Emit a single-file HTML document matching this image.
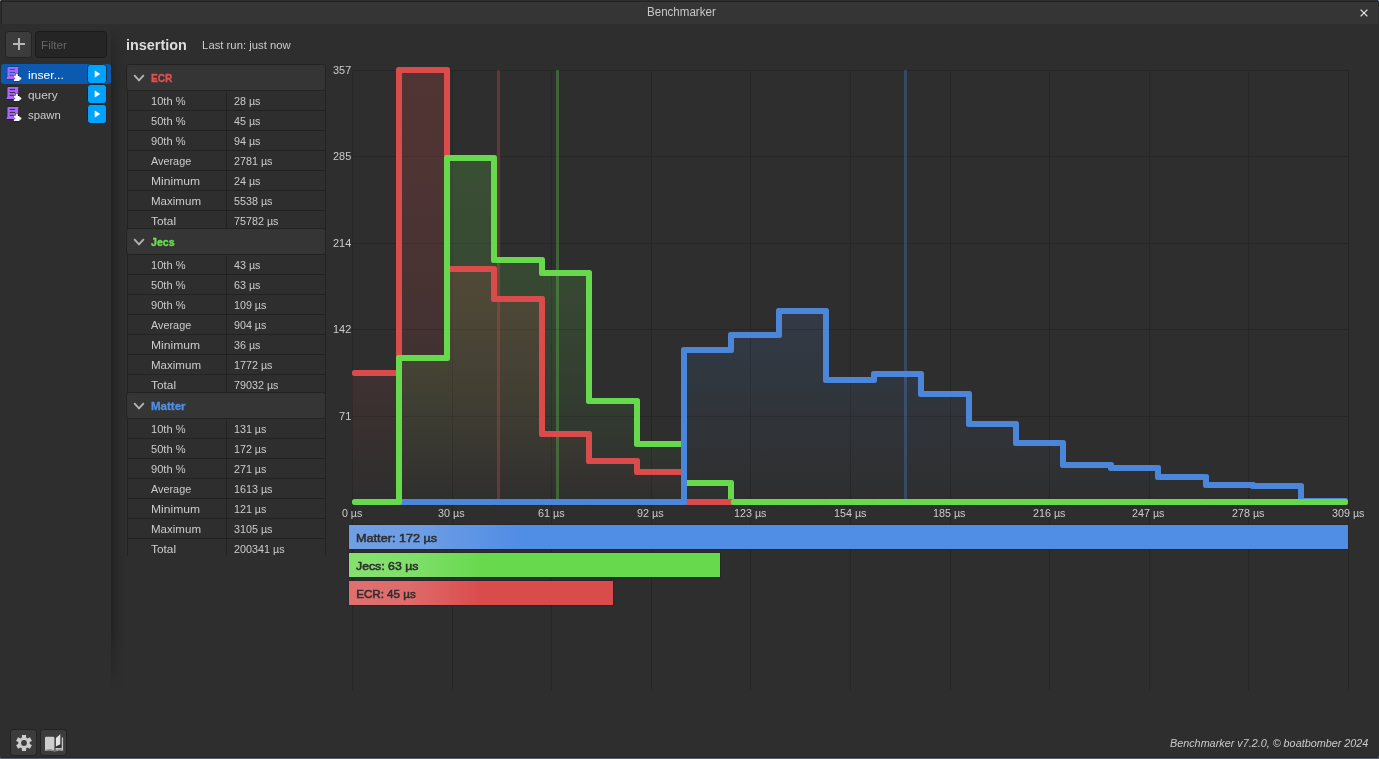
<!DOCTYPE html>
<html><head><meta charset="utf-8"><title>Benchmarker</title>
<style>
html,body{margin:0;padding:0}
body{width:1379px;height:759px;background:#2e2e2e;position:relative;overflow:hidden;font-family:"Liberation Sans",sans-serif}
.t{position:absolute;white-space:nowrap;line-height:1;transform-origin:0 50%}
</style></head><body>
<div style="position:absolute;left:0;top:0;width:1379px;height:24px;background:#2e2e2e"></div>
<div style="position:absolute;left:1px;top:1px;width:1377px;height:23px;background:#222222"></div>
<div style="position:absolute;left:2px;top:2px;width:1376px;height:22px;background:#353535"></div>
<svg style="position:absolute;left:1358px;top:7px" width="12" height="12" viewBox="0 0 12 12"><path d="M2.6 2.6 L9.4 9.4 M9.4 2.6 L2.6 9.4" stroke="#e4e4e4" stroke-width="1.3" fill="none"/></svg>
<div style="position:absolute;left:111px;top:24px;width:14px;height:665px;background:linear-gradient(90deg,rgba(0,0,0,0.24),rgba(0,0,0,0.12) 35%,rgba(0,0,0,0.04) 70%,rgba(0,0,0,0));-webkit-mask-image:linear-gradient(180deg,rgba(0,0,0,0) 2px,rgba(0,0,0,0.55) 26px,#000 60px,#000 608px,rgba(0,0,0,0) 665px);mask-image:linear-gradient(180deg,rgba(0,0,0,0) 2px,rgba(0,0,0,0.55) 26px,#000 60px,#000 608px,rgba(0,0,0,0) 665px)"></div>
<div style="position:absolute;left:5px;top:31px;width:25px;height:25px;border:1px solid #222222;border-radius:3.5px;background:#3c3c3c"></div>
<svg style="position:absolute;left:12px;top:37px" width="14" height="14" viewBox="0 0 14 14"><path d="M7 1 V13 M1 7 H13" stroke="#b6b6b6" stroke-width="2" fill="none"/></svg>
<div style="position:absolute;left:35px;top:31px;width:70px;height:25px;border:1px solid #1a1a1a;border-radius:3.5px;background:#252525"></div>
<div style="position:absolute;left:1px;top:64px;width:110px;height:20px;border-radius:3px;background:#0b5aaf"></div>
<svg style="position:absolute;left:6px;top:66px" width="16" height="16" viewBox="0 0 16 16">
<g stroke="rgba(0,0,0,0.35)" stroke-width="1" paint-order="stroke" stroke-linejoin="round">
<path d="M1.9 1 H13 L12.2 1.9 V7.4 H9 V13 H0.3 L1.4 10.6 V2 Z" fill="#ab66ff"/>
<path d="M7.8 10 H9.4 C9.5 9 9.7 7.6 10.7 7.6 C11.7 7.6 11.9 9 12 10 H13.5 V11 C14.3 11.1 15.5 11.5 15.5 12.4 C15.5 13.3 14.3 13.7 13.5 13.8 V15.1 H7.8 V13.3 C8.5 13.3 9.2 13 9.2 12.4 C9.2 11.8 8.5 11.5 7.8 11.5 Z" fill="#ffffff"/>
</g>
<path d="M3.6 3.45 H9 M3.6 6.4 H9 M3.6 9.3 H7.6" stroke="#0b5aaf" stroke-width="1" fill="none"/>
</svg>
<div style="position:absolute;left:87px;top:64px;width:18px;height:18px;border:1px solid #1c2f47;border-radius:3.5px;background:#00a2ff"></div>
<svg style="position:absolute;left:93px;top:69px" width="10" height="10" viewBox="0 0 10 10"><path d="M1.7 1.4 L7.3 5 L1.7 8.6 Z" fill="#ffffff"/></svg>
<svg style="position:absolute;left:6px;top:86px" width="16" height="16" viewBox="0 0 16 16">
<g stroke="rgba(0,0,0,0.35)" stroke-width="1" paint-order="stroke" stroke-linejoin="round">
<path d="M1.9 1 H13 L12.2 1.9 V7.4 H9 V13 H0.3 L1.4 10.6 V2 Z" fill="#ab66ff"/>
<path d="M7.8 10 H9.4 C9.5 9 9.7 7.6 10.7 7.6 C11.7 7.6 11.9 9 12 10 H13.5 V11 C14.3 11.1 15.5 11.5 15.5 12.4 C15.5 13.3 14.3 13.7 13.5 13.8 V15.1 H7.8 V13.3 C8.5 13.3 9.2 13 9.2 12.4 C9.2 11.8 8.5 11.5 7.8 11.5 Z" fill="#ffffff"/>
</g>
<path d="M3.6 3.45 H9 M3.6 6.4 H9 M3.6 9.3 H7.6" stroke="#2e2e2e" stroke-width="1" fill="none"/>
</svg>
<div style="position:absolute;left:87px;top:84px;width:18px;height:18px;border:1px solid #222222;border-radius:3.5px;background:#00a2ff"></div>
<svg style="position:absolute;left:93px;top:89px" width="10" height="10" viewBox="0 0 10 10"><path d="M1.7 1.4 L7.3 5 L1.7 8.6 Z" fill="#ffffff"/></svg>
<svg style="position:absolute;left:6px;top:106px" width="16" height="16" viewBox="0 0 16 16">
<g stroke="rgba(0,0,0,0.35)" stroke-width="1" paint-order="stroke" stroke-linejoin="round">
<path d="M1.9 1 H13 L12.2 1.9 V7.4 H9 V13 H0.3 L1.4 10.6 V2 Z" fill="#ab66ff"/>
<path d="M7.8 10 H9.4 C9.5 9 9.7 7.6 10.7 7.6 C11.7 7.6 11.9 9 12 10 H13.5 V11 C14.3 11.1 15.5 11.5 15.5 12.4 C15.5 13.3 14.3 13.7 13.5 13.8 V15.1 H7.8 V13.3 C8.5 13.3 9.2 13 9.2 12.4 C9.2 11.8 8.5 11.5 7.8 11.5 Z" fill="#ffffff"/>
</g>
<path d="M3.6 3.45 H9 M3.6 6.4 H9 M3.6 9.3 H7.6" stroke="#2e2e2e" stroke-width="1" fill="none"/>
</svg>
<div style="position:absolute;left:87px;top:104px;width:18px;height:18px;border:1px solid #222222;border-radius:3.5px;background:#00a2ff"></div>
<svg style="position:absolute;left:93px;top:109px" width="10" height="10" viewBox="0 0 10 10"><path d="M1.7 1.4 L7.3 5 L1.7 8.6 Z" fill="#ffffff"/></svg>
<div style="position:absolute;left:120px;top:60px;width:215px;height:496px;overflow:hidden">
<div style="position:absolute;left:7px;top:30px;width:197px;height:141px;border:1px solid #222222;border-top:none;box-sizing:content-box;background:#2e2e2e"></div>
<div style="position:absolute;left:106px;top:30px;width:1px;height:142px;background:#222222"></div>
<div style="position:absolute;left:7px;top:50px;width:199px;height:1px;background:#222222"></div>
<div style="position:absolute;left:7px;top:70px;width:199px;height:1px;background:#222222"></div>
<div style="position:absolute;left:7px;top:90px;width:199px;height:1px;background:#222222"></div>
<div style="position:absolute;left:7px;top:110px;width:199px;height:1px;background:#222222"></div>
<div style="position:absolute;left:7px;top:130px;width:199px;height:1px;background:#222222"></div>
<div style="position:absolute;left:7px;top:150px;width:199px;height:1px;background:#222222"></div>
<div style="position:absolute;left:7px;top:170px;width:199px;height:1px;background:#222222"></div>
<div style="position:absolute;left:7px;top:194px;width:197px;height:141px;border:1px solid #222222;border-top:none;box-sizing:content-box;background:#2e2e2e"></div>
<div style="position:absolute;left:106px;top:194px;width:1px;height:142px;background:#222222"></div>
<div style="position:absolute;left:7px;top:214px;width:199px;height:1px;background:#222222"></div>
<div style="position:absolute;left:7px;top:234px;width:199px;height:1px;background:#222222"></div>
<div style="position:absolute;left:7px;top:254px;width:199px;height:1px;background:#222222"></div>
<div style="position:absolute;left:7px;top:274px;width:199px;height:1px;background:#222222"></div>
<div style="position:absolute;left:7px;top:294px;width:199px;height:1px;background:#222222"></div>
<div style="position:absolute;left:7px;top:314px;width:199px;height:1px;background:#222222"></div>
<div style="position:absolute;left:7px;top:334px;width:199px;height:1px;background:#222222"></div>
<div style="position:absolute;left:7px;top:358px;width:197px;height:141px;border:1px solid #222222;border-top:none;box-sizing:content-box;background:#2e2e2e"></div>
<div style="position:absolute;left:106px;top:358px;width:1px;height:142px;background:#222222"></div>
<div style="position:absolute;left:7px;top:378px;width:199px;height:1px;background:#222222"></div>
<div style="position:absolute;left:7px;top:398px;width:199px;height:1px;background:#222222"></div>
<div style="position:absolute;left:7px;top:418px;width:199px;height:1px;background:#222222"></div>
<div style="position:absolute;left:7px;top:438px;width:199px;height:1px;background:#222222"></div>
<div style="position:absolute;left:7px;top:458px;width:199px;height:1px;background:#222222"></div>
<div style="position:absolute;left:7px;top:478px;width:199px;height:1px;background:#222222"></div>
<div style="position:absolute;left:7px;top:498px;width:199px;height:1px;background:#222222"></div>
<div style="position:absolute;left:6px;top:4px;width:198px;height:25px;border:1px solid #222222;border-radius:3.5px;background:#353535"></div>
<svg style="position:absolute;left:12px;top:12px" width="14" height="12" viewBox="0 0 14 12"><path d="M2.2 3.2 L7 8.4 L11.8 3.2" stroke="#b2b2b2" stroke-width="1.9" fill="none"/></svg>
<div style="position:absolute;left:6px;top:168px;width:198px;height:25px;border:1px solid #222222;border-radius:3.5px;background:#353535"></div>
<svg style="position:absolute;left:12px;top:176px" width="14" height="12" viewBox="0 0 14 12"><path d="M2.2 3.2 L7 8.4 L11.8 3.2" stroke="#b2b2b2" stroke-width="1.9" fill="none"/></svg>
<div style="position:absolute;left:6px;top:332px;width:198px;height:25px;border:1px solid #222222;border-radius:3.5px;background:#353535"></div>
<svg style="position:absolute;left:12px;top:340px" width="14" height="12" viewBox="0 0 14 12"><path d="M2.2 3.2 L7 8.4 L11.8 3.2" stroke="#b2b2b2" stroke-width="1.9" fill="none"/></svg>
</div>
<svg style="position:absolute;left:0;top:0" width="1379" height="759" viewBox="0 0 1379 759">
<defs><linearGradient id="fr" gradientUnits="userSpaceOnUse" x1="0" y1="70" x2="0" y2="502"><stop offset="0.0" stop-color="#da4c4c" stop-opacity="0.2000"/><stop offset="0.1" stop-color="#da4c4c" stop-opacity="0.1980"/><stop offset="0.2" stop-color="#da4c4c" stop-opacity="0.1920"/><stop offset="0.3" stop-color="#da4c4c" stop-opacity="0.1820"/><stop offset="0.4" stop-color="#da4c4c" stop-opacity="0.1680"/><stop offset="0.5" stop-color="#da4c4c" stop-opacity="0.1500"/><stop offset="0.6" stop-color="#da4c4c" stop-opacity="0.1280"/><stop offset="0.7" stop-color="#da4c4c" stop-opacity="0.1020"/><stop offset="0.8" stop-color="#da4c4c" stop-opacity="0.0720"/><stop offset="0.9" stop-color="#da4c4c" stop-opacity="0.0380"/><stop offset="1.0" stop-color="#da4c4c" stop-opacity="0.0000"/></linearGradient><linearGradient id="fg" gradientUnits="userSpaceOnUse" x1="0" y1="70" x2="0" y2="502"><stop offset="0.0" stop-color="#67d94c" stop-opacity="0.2000"/><stop offset="0.1" stop-color="#67d94c" stop-opacity="0.1980"/><stop offset="0.2" stop-color="#67d94c" stop-opacity="0.1920"/><stop offset="0.3" stop-color="#67d94c" stop-opacity="0.1820"/><stop offset="0.4" stop-color="#67d94c" stop-opacity="0.1680"/><stop offset="0.5" stop-color="#67d94c" stop-opacity="0.1500"/><stop offset="0.6" stop-color="#67d94c" stop-opacity="0.1280"/><stop offset="0.7" stop-color="#67d94c" stop-opacity="0.1020"/><stop offset="0.8" stop-color="#67d94c" stop-opacity="0.0720"/><stop offset="0.9" stop-color="#67d94c" stop-opacity="0.0380"/><stop offset="1.0" stop-color="#67d94c" stop-opacity="0.0000"/></linearGradient><linearGradient id="fb" gradientUnits="userSpaceOnUse" x1="0" y1="70" x2="0" y2="502"><stop offset="0.0" stop-color="#4c86d8" stop-opacity="0.2000"/><stop offset="0.1" stop-color="#4c86d8" stop-opacity="0.1980"/><stop offset="0.2" stop-color="#4c86d8" stop-opacity="0.1920"/><stop offset="0.3" stop-color="#4c86d8" stop-opacity="0.1820"/><stop offset="0.4" stop-color="#4c86d8" stop-opacity="0.1680"/><stop offset="0.5" stop-color="#4c86d8" stop-opacity="0.1500"/><stop offset="0.6" stop-color="#4c86d8" stop-opacity="0.1280"/><stop offset="0.7" stop-color="#4c86d8" stop-opacity="0.1020"/><stop offset="0.8" stop-color="#4c86d8" stop-opacity="0.0720"/><stop offset="0.9" stop-color="#4c86d8" stop-opacity="0.0380"/><stop offset="1.0" stop-color="#4c86d8" stop-opacity="0.0000"/></linearGradient></defs>
<rect x="352" y="70" width="1" height="620" fill="#262626"/>
<rect x="452" y="70" width="1" height="620" fill="#262626"/>
<rect x="551" y="70" width="1" height="620" fill="#262626"/>
<rect x="651" y="70" width="1" height="620" fill="#262626"/>
<rect x="750" y="70" width="1" height="620" fill="#262626"/>
<rect x="850" y="70" width="1" height="620" fill="#262626"/>
<rect x="950" y="70" width="1" height="620" fill="#262626"/>
<rect x="1049" y="70" width="1" height="620" fill="#262626"/>
<rect x="1149" y="70" width="1" height="620" fill="#262626"/>
<rect x="1248" y="70" width="1" height="620" fill="#262626"/>
<rect x="1348" y="70" width="1" height="620" fill="#262626"/>
<rect x="352" y="70" width="997" height="1" fill="#262626"/>
<rect x="352" y="156" width="997" height="1" fill="#262626"/>
<rect x="352" y="243" width="997" height="1" fill="#262626"/>
<rect x="352" y="329" width="997" height="1" fill="#262626"/>
<rect x="352" y="416" width="997" height="1" fill="#262626"/>
<rect x="352" y="502" width="997" height="1" fill="#262626"/>
<rect x="352.00" y="373" width="47.00" height="129" fill="url(#fr)"/>
<rect x="399.00" y="70" width="48.00" height="432" fill="url(#fr)"/>
<rect x="447.00" y="158" width="47.00" height="344" fill="url(#fg)"/>
<rect x="494.00" y="260" width="48.00" height="242" fill="url(#fg)"/>
<rect x="542.00" y="273" width="47.00" height="229" fill="url(#fg)"/>
<rect x="589.00" y="401" width="48.00" height="101" fill="url(#fg)"/>
<rect x="637.00" y="444" width="47.00" height="58" fill="url(#fg)"/>
<rect x="684.00" y="350" width="47.00" height="152" fill="url(#fb)"/>
<rect x="731.00" y="335" width="48.00" height="167" fill="url(#fb)"/>
<rect x="779.00" y="311" width="47.00" height="191" fill="url(#fb)"/>
<rect x="826.00" y="380" width="48.00" height="122" fill="url(#fb)"/>
<rect x="874.00" y="374" width="47.00" height="128" fill="url(#fb)"/>
<rect x="921.00" y="394" width="48.00" height="108" fill="url(#fb)"/>
<rect x="969.00" y="424" width="47.00" height="78" fill="url(#fb)"/>
<rect x="1016.00" y="443" width="47.00" height="59" fill="url(#fb)"/>
<rect x="1063.00" y="465" width="48.00" height="37" fill="url(#fb)"/>
<rect x="1111.00" y="468" width="47.00" height="34" fill="url(#fb)"/>
<rect x="1158.00" y="477" width="48.00" height="25" fill="url(#fb)"/>
<rect x="1206.00" y="485" width="47.00" height="17" fill="url(#fb)"/>
<rect x="1253.00" y="486" width="48.00" height="16" fill="url(#fb)"/>
<rect x="1301.00" y="501" width="47.00" height="1" fill="url(#fb)"/>
<rect x="447.00" y="269" width="47.00" height="233" fill="url(#fr)"/>
<rect x="494.00" y="299" width="48.00" height="203" fill="url(#fr)"/>
<rect x="542.00" y="434" width="47.00" height="68" fill="url(#fr)"/>
<rect x="589.00" y="461" width="48.00" height="41" fill="url(#fr)"/>
<rect x="637.00" y="472" width="47.00" height="30" fill="url(#fr)"/>
<rect x="399.00" y="358" width="48.00" height="144" fill="url(#fg)"/>
<rect x="684.00" y="483" width="47.00" height="19" fill="url(#fg)"/>
<rect x="497" y="70" width="3" height="432" fill="#da4c4c" fill-opacity="0.31"/>
<rect x="556" y="70" width="3" height="432" fill="#67d94c" fill-opacity="0.31"/>
<rect x="904" y="70" width="3" height="432" fill="#4c86d8" fill-opacity="0.31"/>
<rect x="399" y="499" width="48" height="6" rx="2.5" fill="#4c86d8"/>
<rect x="444" y="499" width="6" height="6" rx="2.5" fill="#4c86d8"/>
<rect x="352" y="370" width="47" height="6" rx="2.5" fill="#da4c4c"/>
<rect x="396" y="67" width="6" height="309" rx="2.5" fill="#da4c4c"/>
<rect x="399" y="67" width="48" height="6" rx="2.5" fill="#da4c4c"/>
<rect x="444" y="67" width="6" height="205" rx="2.5" fill="#da4c4c"/>
<rect x="447" y="155" width="47" height="6" rx="2.5" fill="#67d94c"/>
<rect x="491" y="155" width="6" height="108" rx="2.5" fill="#67d94c"/>
<rect x="494" y="257" width="48" height="6" rx="2.5" fill="#67d94c"/>
<rect x="539" y="257" width="6" height="19" rx="2.5" fill="#67d94c"/>
<rect x="542" y="270" width="47" height="6" rx="2.5" fill="#67d94c"/>
<rect x="586" y="270" width="6" height="134" rx="2.5" fill="#67d94c"/>
<rect x="589" y="398" width="48" height="6" rx="2.5" fill="#67d94c"/>
<rect x="634" y="398" width="6" height="49" rx="2.5" fill="#67d94c"/>
<rect x="637" y="441" width="47" height="6" rx="2.5" fill="#67d94c"/>
<rect x="681" y="441" width="6" height="45" rx="2.5" fill="#67d94c"/>
<rect x="684" y="347" width="47" height="6" rx="2.5" fill="#4c86d8"/>
<rect x="728" y="332" width="6" height="21" rx="2.5" fill="#4c86d8"/>
<rect x="731" y="332" width="48" height="6" rx="2.5" fill="#4c86d8"/>
<rect x="776" y="308" width="6" height="30" rx="2.5" fill="#4c86d8"/>
<rect x="779" y="308" width="47" height="6" rx="2.5" fill="#4c86d8"/>
<rect x="823" y="308" width="6" height="75" rx="2.5" fill="#4c86d8"/>
<rect x="826" y="377" width="48" height="6" rx="2.5" fill="#4c86d8"/>
<rect x="871" y="371" width="6" height="12" rx="2.5" fill="#4c86d8"/>
<rect x="874" y="371" width="47" height="6" rx="2.5" fill="#4c86d8"/>
<rect x="918" y="371" width="6" height="26" rx="2.5" fill="#4c86d8"/>
<rect x="921" y="391" width="48" height="6" rx="2.5" fill="#4c86d8"/>
<rect x="966" y="391" width="6" height="36" rx="2.5" fill="#4c86d8"/>
<rect x="969" y="421" width="47" height="6" rx="2.5" fill="#4c86d8"/>
<rect x="1013" y="421" width="6" height="25" rx="2.5" fill="#4c86d8"/>
<rect x="1016" y="440" width="47" height="6" rx="2.5" fill="#4c86d8"/>
<rect x="1060" y="440" width="6" height="28" rx="2.5" fill="#4c86d8"/>
<rect x="1063" y="462" width="48" height="6" rx="2.5" fill="#4c86d8"/>
<rect x="1108" y="462" width="6" height="9" rx="2.5" fill="#4c86d8"/>
<rect x="1111" y="465" width="47" height="6" rx="2.5" fill="#4c86d8"/>
<rect x="1155" y="465" width="6" height="15" rx="2.5" fill="#4c86d8"/>
<rect x="1158" y="474" width="48" height="6" rx="2.5" fill="#4c86d8"/>
<rect x="1203" y="474" width="6" height="14" rx="2.5" fill="#4c86d8"/>
<rect x="1206" y="482" width="47" height="6" rx="2.5" fill="#4c86d8"/>
<rect x="1250" y="482" width="6" height="7" rx="2.5" fill="#4c86d8"/>
<rect x="1253" y="483" width="48" height="6" rx="2.5" fill="#4c86d8"/>
<rect x="1298" y="483" width="6" height="21" rx="2.5" fill="#4c86d8"/>
<rect x="1301" y="498" width="47" height="6" rx="2.5" fill="#4c86d8"/>
<rect x="447" y="266" width="47" height="6" rx="2.5" fill="#da4c4c"/>
<rect x="491" y="266" width="6" height="36" rx="2.5" fill="#da4c4c"/>
<rect x="494" y="296" width="48" height="6" rx="2.5" fill="#da4c4c"/>
<rect x="539" y="296" width="6" height="141" rx="2.5" fill="#da4c4c"/>
<rect x="542" y="431" width="47" height="6" rx="2.5" fill="#da4c4c"/>
<rect x="586" y="431" width="6" height="33" rx="2.5" fill="#da4c4c"/>
<rect x="589" y="458" width="48" height="6" rx="2.5" fill="#da4c4c"/>
<rect x="634" y="458" width="6" height="17" rx="2.5" fill="#da4c4c"/>
<rect x="637" y="469" width="47" height="6" rx="2.5" fill="#da4c4c"/>
<rect x="681" y="469" width="6" height="36" rx="2.5" fill="#da4c4c"/>
<rect x="731" y="499" width="48" height="6" rx="2.5" fill="#da4c4c"/>
<rect x="776" y="499" width="6" height="6" rx="2.5" fill="#da4c4c"/>
<rect x="779" y="499" width="47" height="6" rx="2.5" fill="#da4c4c"/>
<rect x="823" y="499" width="6" height="6" rx="2.5" fill="#da4c4c"/>
<rect x="826" y="499" width="48" height="6" rx="2.5" fill="#da4c4c"/>
<rect x="871" y="499" width="6" height="6" rx="2.5" fill="#da4c4c"/>
<rect x="874" y="499" width="47" height="6" rx="2.5" fill="#da4c4c"/>
<rect x="918" y="499" width="6" height="6" rx="2.5" fill="#da4c4c"/>
<rect x="921" y="499" width="48" height="6" rx="2.5" fill="#da4c4c"/>
<rect x="966" y="499" width="6" height="6" rx="2.5" fill="#da4c4c"/>
<rect x="969" y="499" width="47" height="6" rx="2.5" fill="#da4c4c"/>
<rect x="1013" y="499" width="6" height="6" rx="2.5" fill="#da4c4c"/>
<rect x="1016" y="499" width="47" height="6" rx="2.5" fill="#da4c4c"/>
<rect x="1060" y="499" width="6" height="6" rx="2.5" fill="#da4c4c"/>
<rect x="1063" y="499" width="48" height="6" rx="2.5" fill="#da4c4c"/>
<rect x="1108" y="499" width="6" height="6" rx="2.5" fill="#da4c4c"/>
<rect x="1111" y="499" width="47" height="6" rx="2.5" fill="#da4c4c"/>
<rect x="1155" y="499" width="6" height="6" rx="2.5" fill="#da4c4c"/>
<rect x="1158" y="499" width="48" height="6" rx="2.5" fill="#da4c4c"/>
<rect x="1203" y="499" width="6" height="6" rx="2.5" fill="#da4c4c"/>
<rect x="1206" y="499" width="47" height="6" rx="2.5" fill="#da4c4c"/>
<rect x="1250" y="499" width="6" height="6" rx="2.5" fill="#da4c4c"/>
<rect x="1253" y="499" width="48" height="6" rx="2.5" fill="#da4c4c"/>
<rect x="1298" y="499" width="6" height="6" rx="2.5" fill="#da4c4c"/>
<rect x="1301" y="499" width="47" height="6" rx="2.5" fill="#da4c4c"/>
<rect x="352" y="499" width="47" height="6" rx="2.5" fill="#67d94c"/>
<rect x="396" y="355" width="6" height="150" rx="2.5" fill="#67d94c"/>
<rect x="399" y="355" width="48" height="6" rx="2.5" fill="#67d94c"/>
<rect x="444" y="155" width="6" height="206" rx="2.5" fill="#67d94c"/>
<rect x="684" y="480" width="47" height="6" rx="2.5" fill="#67d94c"/>
<rect x="728" y="480" width="6" height="25" rx="2.5" fill="#67d94c"/>
<rect x="684" y="499" width="47" height="6" rx="2.5" fill="#da4c4c"/>
<rect x="728" y="499" width="6" height="6" rx="2.5" fill="#da4c4c"/>
<rect x="731" y="499" width="48" height="6" rx="2.5" fill="#67d94c"/>
<rect x="776" y="499" width="6" height="6" rx="2.5" fill="#67d94c"/>
<rect x="779" y="499" width="47" height="6" rx="2.5" fill="#67d94c"/>
<rect x="823" y="499" width="6" height="6" rx="2.5" fill="#67d94c"/>
<rect x="826" y="499" width="48" height="6" rx="2.5" fill="#67d94c"/>
<rect x="871" y="499" width="6" height="6" rx="2.5" fill="#67d94c"/>
<rect x="874" y="499" width="47" height="6" rx="2.5" fill="#67d94c"/>
<rect x="918" y="499" width="6" height="6" rx="2.5" fill="#67d94c"/>
<rect x="921" y="499" width="48" height="6" rx="2.5" fill="#67d94c"/>
<rect x="966" y="499" width="6" height="6" rx="2.5" fill="#67d94c"/>
<rect x="969" y="499" width="47" height="6" rx="2.5" fill="#67d94c"/>
<rect x="1013" y="499" width="6" height="6" rx="2.5" fill="#67d94c"/>
<rect x="1016" y="499" width="47" height="6" rx="2.5" fill="#67d94c"/>
<rect x="1060" y="499" width="6" height="6" rx="2.5" fill="#67d94c"/>
<rect x="1063" y="499" width="48" height="6" rx="2.5" fill="#67d94c"/>
<rect x="1108" y="499" width="6" height="6" rx="2.5" fill="#67d94c"/>
<rect x="1111" y="499" width="47" height="6" rx="2.5" fill="#67d94c"/>
<rect x="1155" y="499" width="6" height="6" rx="2.5" fill="#67d94c"/>
<rect x="1158" y="499" width="48" height="6" rx="2.5" fill="#67d94c"/>
<rect x="1203" y="499" width="6" height="6" rx="2.5" fill="#67d94c"/>
<rect x="1206" y="499" width="47" height="6" rx="2.5" fill="#67d94c"/>
<rect x="1250" y="499" width="6" height="6" rx="2.5" fill="#67d94c"/>
<rect x="1253" y="499" width="48" height="6" rx="2.5" fill="#67d94c"/>
<rect x="1298" y="499" width="6" height="6" rx="2.5" fill="#67d94c"/>
<rect x="1301" y="499" width="47" height="6" rx="2.5" fill="#67d94c"/>
<rect x="447" y="499" width="47" height="6" rx="2.5" fill="#4c86d8"/>
<rect x="491" y="499" width="6" height="6" rx="2.5" fill="#4c86d8"/>
<rect x="494" y="499" width="48" height="6" rx="2.5" fill="#4c86d8"/>
<rect x="539" y="499" width="6" height="6" rx="2.5" fill="#4c86d8"/>
<rect x="542" y="499" width="47" height="6" rx="2.5" fill="#4c86d8"/>
<rect x="586" y="499" width="6" height="6" rx="2.5" fill="#4c86d8"/>
<rect x="589" y="499" width="48" height="6" rx="2.5" fill="#4c86d8"/>
<rect x="634" y="499" width="6" height="6" rx="2.5" fill="#4c86d8"/>
<rect x="637" y="499" width="47" height="6" rx="2.5" fill="#4c86d8"/>
<rect x="681" y="347" width="6" height="158" rx="2.5" fill="#4c86d8"/>
</svg>
<div style="position:absolute;left:348px;top:524px;width:1001px;height:26px;background:#272929"></div>
<div style="position:absolute;left:349px;top:525px;width:999px;height:24px;background:linear-gradient(90deg,#719fe4 0px,#6c9ce4 77px,#508de5 172px)"></div>
<div style="position:absolute;left:348px;top:552px;width:373px;height:26px;background:#272929"></div>
<div style="position:absolute;left:349px;top:553px;width:371px;height:24px;background:linear-gradient(90deg,#85e070 0px,#80df6b 61px,#67d94c 136px)"></div>
<div style="position:absolute;left:348px;top:580px;width:266px;height:26px;background:#272929"></div>
<div style="position:absolute;left:349px;top:581px;width:264px;height:24px;background:linear-gradient(90deg,#e07070 0px,#df6b6b 59px,#da4c4c 132px)"></div>
<div style="position:absolute;left:10px;top:729px;width:25px;height:25px;border:1px solid #222222;border-radius:3.5px;background:#3c3c3c"></div>
<div style="position:absolute;left:40px;top:729px;width:25px;height:25px;border:1px solid #222222;border-radius:3.5px;background:#3c3c3c"></div>
<svg style="position:absolute;left:0;top:720px" width="80" height="39" viewBox="0 720 80 39"><path d="M21.97 735.05 L26.03 735.05 L26.22 737.75 L27.44 738.45 L29.87 737.27 L31.89 740.78 L29.66 742.30 L29.66 743.70 L31.89 745.22 L29.87 748.73 L27.44 747.55 L26.22 748.25 L26.03 750.95 L21.97 750.95 L21.78 748.25 L20.56 747.55 L18.13 748.73 L16.11 745.22 L18.34 743.70 L18.34 742.30 L16.11 740.78 L18.13 737.27 L20.56 738.45 L21.78 737.75 Z M24 740.1 A2.9 2.9 0 1 0 24 745.9 A2.9 2.9 0 1 0 24 740.1 Z" fill="#cccccc" fill-rule="evenodd"/><path d="M45 738 Q45 736.8 46.2 736.8 H53 Q54.4 736.8 54.4 738.2 V750.3 Q50 748.8 45 749.9 Z" fill="#cdcdcd"/><path d="M55.7 738 H61.7 V748 H55.7 Z" fill="#303030"/><path d="M61.7 737.6 H63.1 V749.9 Q59 748.8 55.6 750.3 V748 H61.7 Z" fill="#c4c4c4"/><path d="M55.9 738 L60.3 734.2 V744.3 L55.9 746.6 Z" fill="#e2e2e2"/><path d="M44.8 750.6 Q50 749.4 54.9 751.1 Q59 749.6 63.3 750.6" stroke="#bdbdbd" stroke-width="0.7" fill="none"/></svg>
<div style="position:absolute;left:0;top:0;width:1px;height:1px;background:#8a90a0"></div><div style="position:absolute;left:1378px;top:0;width:1px;height:1px;background:#8a90a0"></div>
<div style="position:absolute;left:0;top:757px;width:1379px;height:1px;background:#262626"></div>
<div style="position:absolute;left:0;top:758px;width:1379px;height:1px;background:#5c6270"></div>
<div style="position:absolute;left:0;top:757px;width:1px;height:1px;background:#4a4f5a"></div><div style="position:absolute;left:1378px;top:756px;width:1px;height:2px;background:#4a4f5a"></div>
<span class="t" id="title" style="left:646.60px;top:6.00px;font-size:12px;color:#c8c8c8;transform:scaleX(0.9639);">Benchmarker</span>
<div style="position:absolute;left:0;top:0;width:1379px;height:759px;will-change:transform">
<span class="t" id="filter" style="left:41.40px;top:40.00px;font-size:11.3px;color:#666666;transform:scaleX(1.0355);">Filter</span>
<span class="t" id="li0" style="left:28.00px;top:69.00px;font-size:11.6px;color:#ffffff;transform:scaleX(1.0481);">inser...</span>
<span class="t" id="li1" style="left:28.00px;top:89.00px;font-size:11.6px;color:#cccccc;transform:scaleX(1.0270);">query</span>
<span class="t" id="li2" style="left:28.00px;top:109.00px;font-size:11.6px;color:#cccccc;transform:scaleX(0.9757);">spawn</span>
<span class="t" id="hname" style="left:125.80px;top:38.00px;font-size:14px;color:#dcdcdc;font-weight:bold;transform:scaleX(1.0300);">insertion</span>
<span class="t" id="hrun" style="left:202.10px;top:40.00px;font-size:11.3px;color:#cccccc;">Last run: just now</span>
<span class="t" id="sec0" style="left:151.30px;top:72.00px;font-size:11.6px;color:#e35050;font-weight:bold;-webkit-text-stroke:0.35px #e35050;transform:scaleX(0.8699);">ECR</span>
<span class="t" id="r0_0a" style="left:151.00px;top:96.00px;font-size:11px;color:#cccccc;transform:scaleX(1.0073);">10th %</span>
<span class="t" id="r0_0b" style="left:233.80px;top:96.00px;font-size:11px;color:#cccccc;transform:scaleX(0.9764);">28 µs</span>
<span class="t" id="r0_1a" style="left:151.00px;top:116.00px;font-size:11px;color:#cccccc;transform:scaleX(1.0073);">50th %</span>
<span class="t" id="r0_1b" style="left:233.80px;top:116.00px;font-size:11px;color:#cccccc;transform:scaleX(0.9764);">45 µs</span>
<span class="t" id="r0_2a" style="left:151.00px;top:136.00px;font-size:11px;color:#cccccc;transform:scaleX(1.0073);">90th %</span>
<span class="t" id="r0_2b" style="left:233.80px;top:136.00px;font-size:11px;color:#cccccc;transform:scaleX(0.9764);">94 µs</span>
<span class="t" id="r0_3a" style="left:151.00px;top:156.00px;font-size:11px;color:#cccccc;transform:scaleX(0.9857);">Average</span>
<span class="t" id="r0_3b" style="left:233.80px;top:156.00px;font-size:11px;color:#cccccc;transform:scaleX(0.9778);">2781 µs</span>
<span class="t" id="r0_4a" style="left:151.00px;top:176.00px;font-size:11px;color:#cccccc;transform:scaleX(1.0980);">Minimum</span>
<span class="t" id="r0_4b" style="left:233.80px;top:176.00px;font-size:11px;color:#cccccc;transform:scaleX(0.9764);">24 µs</span>
<span class="t" id="r0_5a" style="left:151.00px;top:196.00px;font-size:11px;color:#cccccc;transform:scaleX(1.0488);">Maximum</span>
<span class="t" id="r0_5b" style="left:233.80px;top:196.00px;font-size:11px;color:#cccccc;transform:scaleX(0.9778);">5538 µs</span>
<span class="t" id="r0_6a" style="left:151.00px;top:216.00px;font-size:11px;color:#cccccc;transform:scaleX(1.0796);">Total</span>
<span class="t" id="r0_6b" style="left:233.80px;top:216.00px;font-size:11px;color:#cccccc;transform:scaleX(0.9784);">75782 µs</span>
<span class="t" id="sec1" style="left:151.30px;top:236.00px;font-size:11.6px;color:#6be050;font-weight:bold;-webkit-text-stroke:0.35px #6be050;transform:scaleX(0.9148);">Jecs</span>
<span class="t" id="r1_0a" style="left:151.00px;top:260.00px;font-size:11px;color:#cccccc;transform:scaleX(1.0073);">10th %</span>
<span class="t" id="r1_0b" style="left:233.80px;top:260.00px;font-size:11px;color:#cccccc;transform:scaleX(0.9764);">43 µs</span>
<span class="t" id="r1_1a" style="left:151.00px;top:280.00px;font-size:11px;color:#cccccc;transform:scaleX(1.0073);">50th %</span>
<span class="t" id="r1_1b" style="left:233.80px;top:280.00px;font-size:11px;color:#cccccc;transform:scaleX(0.9764);">63 µs</span>
<span class="t" id="r1_2a" style="left:151.00px;top:300.00px;font-size:11px;color:#cccccc;transform:scaleX(1.0073);">90th %</span>
<span class="t" id="r1_2b" style="left:233.80px;top:300.00px;font-size:11px;color:#cccccc;transform:scaleX(0.9744);">109 µs</span>
<span class="t" id="r1_3a" style="left:151.00px;top:320.00px;font-size:11px;color:#cccccc;transform:scaleX(0.9857);">Average</span>
<span class="t" id="r1_3b" style="left:233.80px;top:320.00px;font-size:11px;color:#cccccc;transform:scaleX(0.9744);">904 µs</span>
<span class="t" id="r1_4a" style="left:151.00px;top:340.00px;font-size:11px;color:#cccccc;transform:scaleX(1.0980);">Minimum</span>
<span class="t" id="r1_4b" style="left:233.80px;top:340.00px;font-size:11px;color:#cccccc;transform:scaleX(0.9764);">36 µs</span>
<span class="t" id="r1_5a" style="left:151.00px;top:360.00px;font-size:11px;color:#cccccc;transform:scaleX(1.0488);">Maximum</span>
<span class="t" id="r1_5b" style="left:233.80px;top:360.00px;font-size:11px;color:#cccccc;transform:scaleX(0.9778);">1772 µs</span>
<span class="t" id="r1_6a" style="left:151.00px;top:380.00px;font-size:11px;color:#cccccc;transform:scaleX(1.0796);">Total</span>
<span class="t" id="r1_6b" style="left:233.80px;top:380.00px;font-size:11px;color:#cccccc;transform:scaleX(0.9784);">79032 µs</span>
<span class="t" id="sec2" style="left:151.30px;top:400.00px;font-size:11.6px;color:#508de5;font-weight:bold;-webkit-text-stroke:0.35px #508de5;transform:scaleX(0.9943);">Matter</span>
<span class="t" id="r2_0a" style="left:151.00px;top:424.00px;font-size:11px;color:#cccccc;transform:scaleX(1.0073);">10th %</span>
<span class="t" id="r2_0b" style="left:233.80px;top:424.00px;font-size:11px;color:#cccccc;transform:scaleX(0.9744);">131 µs</span>
<span class="t" id="r2_1a" style="left:151.00px;top:444.00px;font-size:11px;color:#cccccc;transform:scaleX(1.0073);">50th %</span>
<span class="t" id="r2_1b" style="left:233.80px;top:444.00px;font-size:11px;color:#cccccc;transform:scaleX(0.9744);">172 µs</span>
<span class="t" id="r2_2a" style="left:151.00px;top:464.00px;font-size:11px;color:#cccccc;transform:scaleX(1.0073);">90th %</span>
<span class="t" id="r2_2b" style="left:233.80px;top:464.00px;font-size:11px;color:#cccccc;transform:scaleX(0.9744);">271 µs</span>
<span class="t" id="r2_3a" style="left:151.00px;top:484.00px;font-size:11px;color:#cccccc;transform:scaleX(0.9857);">Average</span>
<span class="t" id="r2_3b" style="left:233.80px;top:484.00px;font-size:11px;color:#cccccc;transform:scaleX(0.9778);">1613 µs</span>
<span class="t" id="r2_4a" style="left:151.00px;top:504.00px;font-size:11px;color:#cccccc;transform:scaleX(1.0980);">Minimum</span>
<span class="t" id="r2_4b" style="left:233.80px;top:504.00px;font-size:11px;color:#cccccc;transform:scaleX(0.9744);">121 µs</span>
<span class="t" id="r2_5a" style="left:151.00px;top:524.00px;font-size:11px;color:#cccccc;transform:scaleX(1.0488);">Maximum</span>
<span class="t" id="r2_5b" style="left:233.80px;top:524.00px;font-size:11px;color:#cccccc;transform:scaleX(0.9778);">3105 µs</span>
<span class="t" id="r2_6a" style="left:151.00px;top:544.00px;font-size:11px;color:#cccccc;transform:scaleX(1.0796);">Total</span>
<span class="t" id="r2_6b" style="left:233.80px;top:544.00px;font-size:11px;color:#cccccc;transform:scaleX(0.9804);">200341 µs</span>
<span class="t" id="yl0" style="left:333.40px;top:65.00px;font-size:11px;color:#cccccc;transform:scaleX(0.9913);">357</span>
<span class="t" id="yl1" style="left:333.40px;top:151.00px;font-size:11px;color:#cccccc;transform:scaleX(0.9913);">285</span>
<span class="t" id="yl2" style="left:333.40px;top:238.00px;font-size:11px;color:#cccccc;transform:scaleX(0.9913);">214</span>
<span class="t" id="yl3" style="left:333.40px;top:324.00px;font-size:11px;color:#cccccc;transform:scaleX(0.9913);">142</span>
<span class="t" id="yl4" style="left:339.20px;top:411.00px;font-size:11px;color:#cccccc;transform:scaleX(1.0122);">71</span>
<span class="t" id="xl0" style="left:341.95px;top:508.00px;font-size:11px;color:#cccccc;transform:scaleX(0.9659);">0 µs</span>
<span class="t" id="xl1" style="left:437.75px;top:508.00px;font-size:11px;color:#cccccc;transform:scaleX(0.9838);">30 µs</span>
<span class="t" id="xl2" style="left:537.75px;top:508.00px;font-size:11px;color:#cccccc;transform:scaleX(0.9838);">61 µs</span>
<span class="t" id="xl3" style="left:636.75px;top:508.00px;font-size:11px;color:#cccccc;transform:scaleX(0.9838);">92 µs</span>
<span class="t" id="xl4" style="left:733.85px;top:508.00px;font-size:11px;color:#cccccc;transform:scaleX(0.9774);">123 µs</span>
<span class="t" id="xl5" style="left:833.85px;top:508.00px;font-size:11px;color:#cccccc;transform:scaleX(0.9774);">154 µs</span>
<span class="t" id="xl6" style="left:932.85px;top:508.00px;font-size:11px;color:#cccccc;transform:scaleX(0.9774);">185 µs</span>
<span class="t" id="xl7" style="left:1032.85px;top:508.00px;font-size:11px;color:#cccccc;transform:scaleX(0.9774);">216 µs</span>
<span class="t" id="xl8" style="left:1131.85px;top:508.00px;font-size:11px;color:#cccccc;transform:scaleX(0.9774);">247 µs</span>
<span class="t" id="xl9" style="left:1231.85px;top:508.00px;font-size:11px;color:#cccccc;transform:scaleX(0.9774);">278 µs</span>
<span class="t" id="xl10" style="left:1331.85px;top:508.00px;font-size:11px;color:#cccccc;transform:scaleX(0.9774);">309 µs</span>
<span class="t" id="bar0" style="left:356.20px;top:532.00px;font-size:11.6px;color:#2e2e2e;-webkit-text-stroke:0.55px #2e2e2e;transform:scaleX(1.0922);">Matter: 172 µs</span>
<span class="t" id="bar1" style="left:356.20px;top:560.00px;font-size:11.6px;color:#2e2e2e;-webkit-text-stroke:0.55px #2e2e2e;transform:scaleX(1.0599);">Jecs: 63 µs</span>
<span class="t" id="bar2" style="left:356.20px;top:588.00px;font-size:11.6px;color:#2e2e2e;-webkit-text-stroke:0.55px #2e2e2e;">ECR: 45 µs</span>
<span class="t" id="foot" style="left:1169.80px;top:738.00px;font-size:11.3px;color:#cccccc;font-style:italic;transform:scaleX(0.9561);">Benchmarker v7.2.0, © boatbomber 2024</span>
</div>
</body></html>
